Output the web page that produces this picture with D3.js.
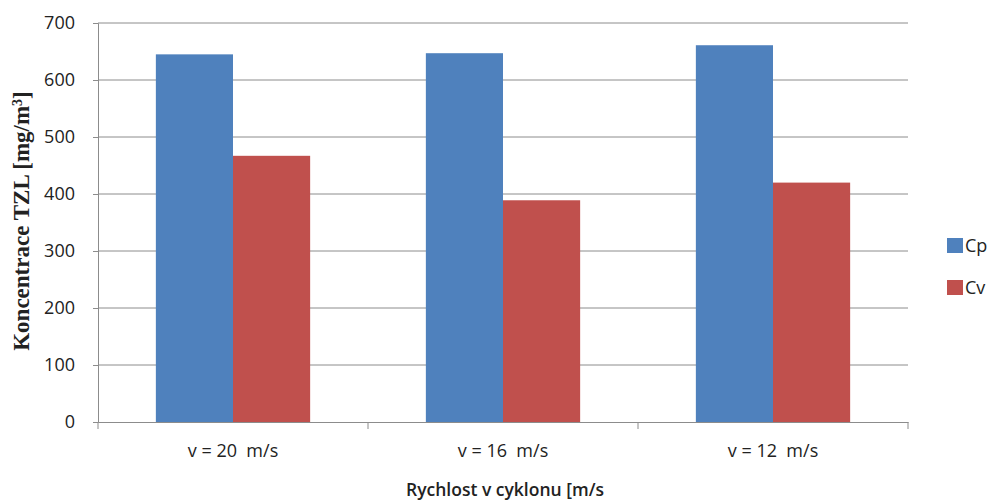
<!DOCTYPE html>
<html>
<head>
<meta charset="utf-8">
<script src="https://cdn.jsdelivr.net/npm/d3@7"></script>
<style>
  body { margin: 0; background: #fff; }
  text { font-family: "Open Sans", "Liberation Sans", sans-serif; fill: #222; }
</style>
</head>
<body>
<div id="chart"></div>
<script>
// Data
const categories = ["v = 20  m/s", "v = 16  m/s", "v = 12  m/s"];
const seriesNames = ["Cp", "Cv"];
const cpValues = [645, 647, 661];
const cvValues = [467, 389, 420];
const yTicks = [0, 100, 200, 300, 400, 500, 600, 700];

(function (d3) {
	"use strict";
	const width = 993, height = 500;
	const margin = { top: 23, right: 85, bottom: 78, left: 98 };
	const innerW = width - margin.left - margin.right;
	const innerH = height - margin.top - margin.bottom;
	const colors = { Cp: "#4F81BD", Cv: "#C0504D" };

	const svg = d3.select("#chart").append("svg")
		.attr("width", width)
		.attr("height", height);
	const g = svg.append("g")
		.attr("transform", "translate(" + margin.left + "," + margin.top + ")");

	// Excel-like clustering: gap width 75% of a bar, split on both sides
	const x = d3.scaleBand().domain(categories).range([0, innerW]);
	const xInner = d3.scaleBand().domain(seriesNames)
		.range([0, x.bandwidth()]).paddingOuter(0.75);
	const y = d3.scaleLinear().domain([0, 700]).range([innerH, 0]);

	// gridlines
	g.append("g").selectAll("line")
		.data(yTicks.filter(d => d > 0))
		.join("line")
		.attr("x1", 0).attr("x2", innerW)
		.attr("y1", d => y(d)).attr("y2", d => y(d))
		.attr("stroke", "#8c8c8c").attr("stroke-width", 1);

	// bars
	const rows = categories.map((c, i) => ({ cat: c, Cp: cpValues[i], Cv: cvValues[i] }));
	const groups = g.append("g").selectAll("g")
		.data(rows)
		.join("g")
		.attr("transform", d => "translate(" + x(d.cat) + ",0)");
	groups.selectAll("rect")
		.data(d => seriesNames.map(s => ({ key: s, value: d[s] })))
		.join("rect")
		.attr("x", d => xInner(d.key))
		.attr("width", xInner.bandwidth())
		.attr("y", d => y(d.value))
		.attr("height", d => innerH - y(d.value))
		.attr("fill", d => colors[d.key]);

	// y axis
	const yAxis = g.append("g")
		.call(d3.axisLeft(y).tickValues(yTicks).tickSize(5).tickPadding(18));
	yAxis.select(".domain").attr("stroke", "#8c8c8c");
	yAxis.selectAll(".tick line").attr("stroke", "#8c8c8c");
	yAxis.selectAll(".tick text").style("font-size", "18px").attr("fill", "#222");

	// x axis
	const xAxis = g.append("g")
		.attr("transform", "translate(0," + innerH + ")")
		.call(d3.axisBottom(x).tickSize(0).tickPadding(22));
	xAxis.select(".domain").attr("stroke", "#8c8c8c");
	xAxis.selectAll(".tick text")
		.style("font-size", "18px")
		.style("white-space", "pre")
		.attr("fill", "#222");
	// category separators
	xAxis.append("g").selectAll("line")
		.data(d3.range(categories.length + 1))
		.join("line")
		.attr("x1", i => i * x.step()).attr("x2", i => i * x.step())
		.attr("y1", 0).attr("y2", 7)
		.attr("stroke", "#8c8c8c");

	// axis titles
	svg.append("text")
		.attr("x", margin.left + innerW / 2 + 2)
		.attr("y", 496)
		.attr("text-anchor", "middle")
		.style("font-size", "17.5px")
		.style("font-weight", "600")
		.text("Rychlost v cyklonu [m/s");

	const yTitle = svg.append("text")
		.attr("transform", "translate(29,221) rotate(-90)")
		.attr("text-anchor", "middle")
		.style("font-family", "'Liberation Serif', 'DejaVu Serif', serif")
		.style("font-size", "23px")
		.style("font-weight", "bold")
		.attr("fill", "#111");
	yTitle.append("tspan").text("Koncentrace TZL [mg/m");
	yTitle.append("tspan").attr("baseline-shift", "super").style("font-size", "14px").text("3");
	yTitle.append("tspan").text("]");

	// legend
	const legend = svg.append("g").attr("transform", "translate(947,238)");
	const item = legend.selectAll("g")
		.data(seriesNames)
		.join("g")
		.attr("transform", (d, i) => "translate(0," + i * 42 + ")");
	item.append("rect")
		.attr("width", 16).attr("height", 15)
		.attr("fill", d => colors[d]);
	item.append("text")
		.attr("x", 18).attr("y", 8)
		.attr("dy", "0.35em")
		.style("font-size", "18px")
		.text(d => d);
})(d3);
</script>
</body>
</html>
